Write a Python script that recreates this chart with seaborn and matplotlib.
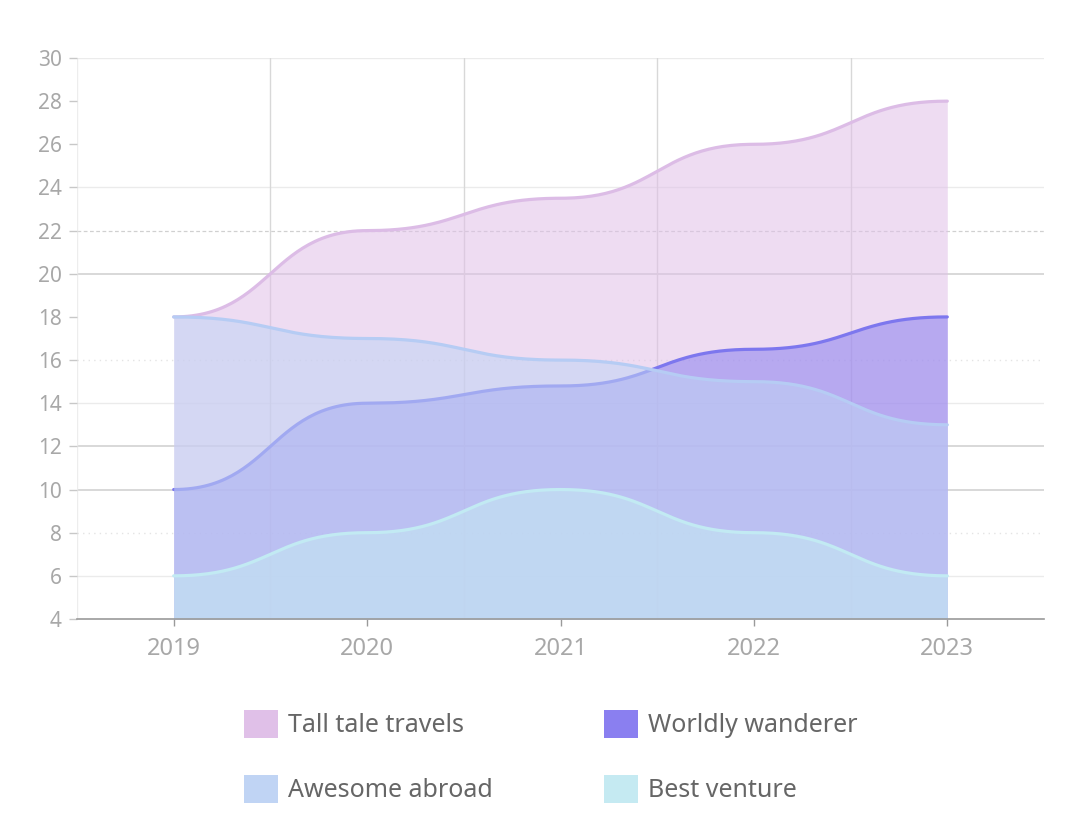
import numpy as np
import matplotlib
matplotlib.use("Agg")
import matplotlib.pyplot as plt
from matplotlib.patches import Patch
import seaborn as sns

# ---- data ----
years = ["2019", "2020", "2021", "2022", "2023"]
tall_tale_travels = [18, 22, 23.5, 26, 28]
worldly_wanderer = [10, 14, 14.8, 16.5, 18]
awesome_abroad = [18, 17, 16, 15, 13]
best_venture = [6, 8, 10, 8, 6]

series_names = ["Tall tale travels", "Worldly wanderer", "Awesome abroad", "Best venture"]
series_values = [tall_tale_travels, worldly_wanderer, awesome_abroad, best_venture]
fill_colors = ["#E0C0E8", "#8A7FF0", "#C0D4F4", "#C5EAF2"]
line_colors = ["#DCBCE6", "#7D77EE", "#B6CCF4", "#C2EAF3"]

y_ticks = list(range(4, 31, 2))

sns.set_theme(style="white")
plt.rcParams["font.family"] = ["Noto Sans", "DejaVu Sans"]

fig = plt.figure(figsize=(10.76, 8.24), dpi=100)
ax = fig.add_axes([77 / 1076, 1 - 619 / 824, (1044 - 77) / 1076, (619 - 58) / 824])


def bump_x(xv, yv, n=60):
    """Render a curve with horizontal tangents at each point (bump-x style)."""
    xs, ys = [], []
    t = np.linspace(0, 1, n)
    for i in range(len(xv) - 1):
        x0, x1 = xv[i], xv[i + 1]
        y0, y1 = yv[i], yv[i + 1]
        xm = (x0 + x1) / 2
        bx = (1 - t) ** 3 * x0 + 3 * (1 - t) ** 2 * t * xm + 3 * (1 - t) * t ** 2 * xm + t ** 3 * x1
        by = (1 - t) ** 3 * y0 + 3 * (1 - t) ** 2 * t * y0 + 3 * (1 - t) * t ** 2 * y1 + t ** 3 * y1
        if i > 0:
            bx, by = bx[1:], by[1:]
        xs.append(bx)
        ys.append(by)
    return np.concatenate(xs), np.concatenate(ys)


# ---- gridlines ----
grid_style = {
    30: ("#EBEBEB", "-", 1.0),
    24: ("#EBEBEB", "-", 1.0),
    22: ("#D0D0D0", (0, (3, 2)), 0.9),
    20: ("#D6D6D6", "-", 1.3),
    16: ("#E4E4E4", (0, (1, 3)), 1.0),
    14: ("#EBEBEB", "-", 1.0),
    12: ("#D6D6D6", "-", 1.3),
    10: ("#D6D6D6", "-", 1.3),
    8: ("#E4E4E4", (0, (1, 3)), 1.0),
    6: ("#EBEBEB", "-", 1.0),
}
for yv, (c, ls, lw) in grid_style.items():
    ax.axhline(yv, color=c, linestyle=ls, linewidth=lw, zorder=0)
for xv in [0.5, 1.5, 2.5, 3.5]:
    ax.axvline(xv, color="#D8D8D8", linewidth=1.0, zorder=0)
ax.axvline(-0.5, color="#EDEDED", linewidth=1.0, zorder=0)

# ---- areas ----
x_pos = np.arange(len(years))
for i, (name, vals, fc, lc) in enumerate(zip(series_names, series_values, fill_colors, line_colors)):
    cx, cy = bump_x(x_pos, vals)
    ax.fill_between(cx, 4, cy, color=fc, alpha=0.55, linewidth=0, zorder=2 + 2 * i)
    sns.lineplot(x=cx, y=cy, ax=ax, color=lc, linewidth=2.3, sort=False, zorder=3 + 2 * i)

ax.set_xlim(-0.5, 4.5)
ax.set_ylim(4, 30)
ax.set_xticks(x_pos)
ax.set_xticklabels(years)
ax.set_yticks(y_ticks)
ax.set_yticklabels([str(v) for v in y_ticks])
ax.set_xlabel("")
ax.set_ylabel("")

for s in ["top", "right", "left"]:
    ax.spines[s].set_visible(False)
ax.spines["bottom"].set_color("#9A9A9A")
ax.spines["bottom"].set_linewidth(1.2)
ax.spines["bottom"].set_zorder(20)

ax.tick_params(axis="x", colors="#9A9A9A", length=5, width=1, direction="out", pad=8,
               labelsize=17, labelcolor="#A8A8A8", bottom=True)
ax.tick_params(axis="y", length=6, width=1, colors="#C8C8C8", pad=5,
               labelsize=15, labelcolor="#A8A8A8", left=True)

# ---- legend ----
order = [0, 2, 1, 3]
handles = [Patch(facecolor=fill_colors[i], edgecolor="none", label=series_names[i]) for i in order]
fig.legend(handles=handles, loc="upper left", bbox_to_anchor=(234 / 1076, 1 - 700 / 824),
           ncol=2, frameon=False, fontsize=18, handlelength=1.35, handleheight=1.35,
           handletextpad=0.4, columnspacing=4.45, labelspacing=1.45, labelcolor="#666666",
           borderaxespad=0)

fig.savefig("out.png", dpi=100, facecolor="white")
